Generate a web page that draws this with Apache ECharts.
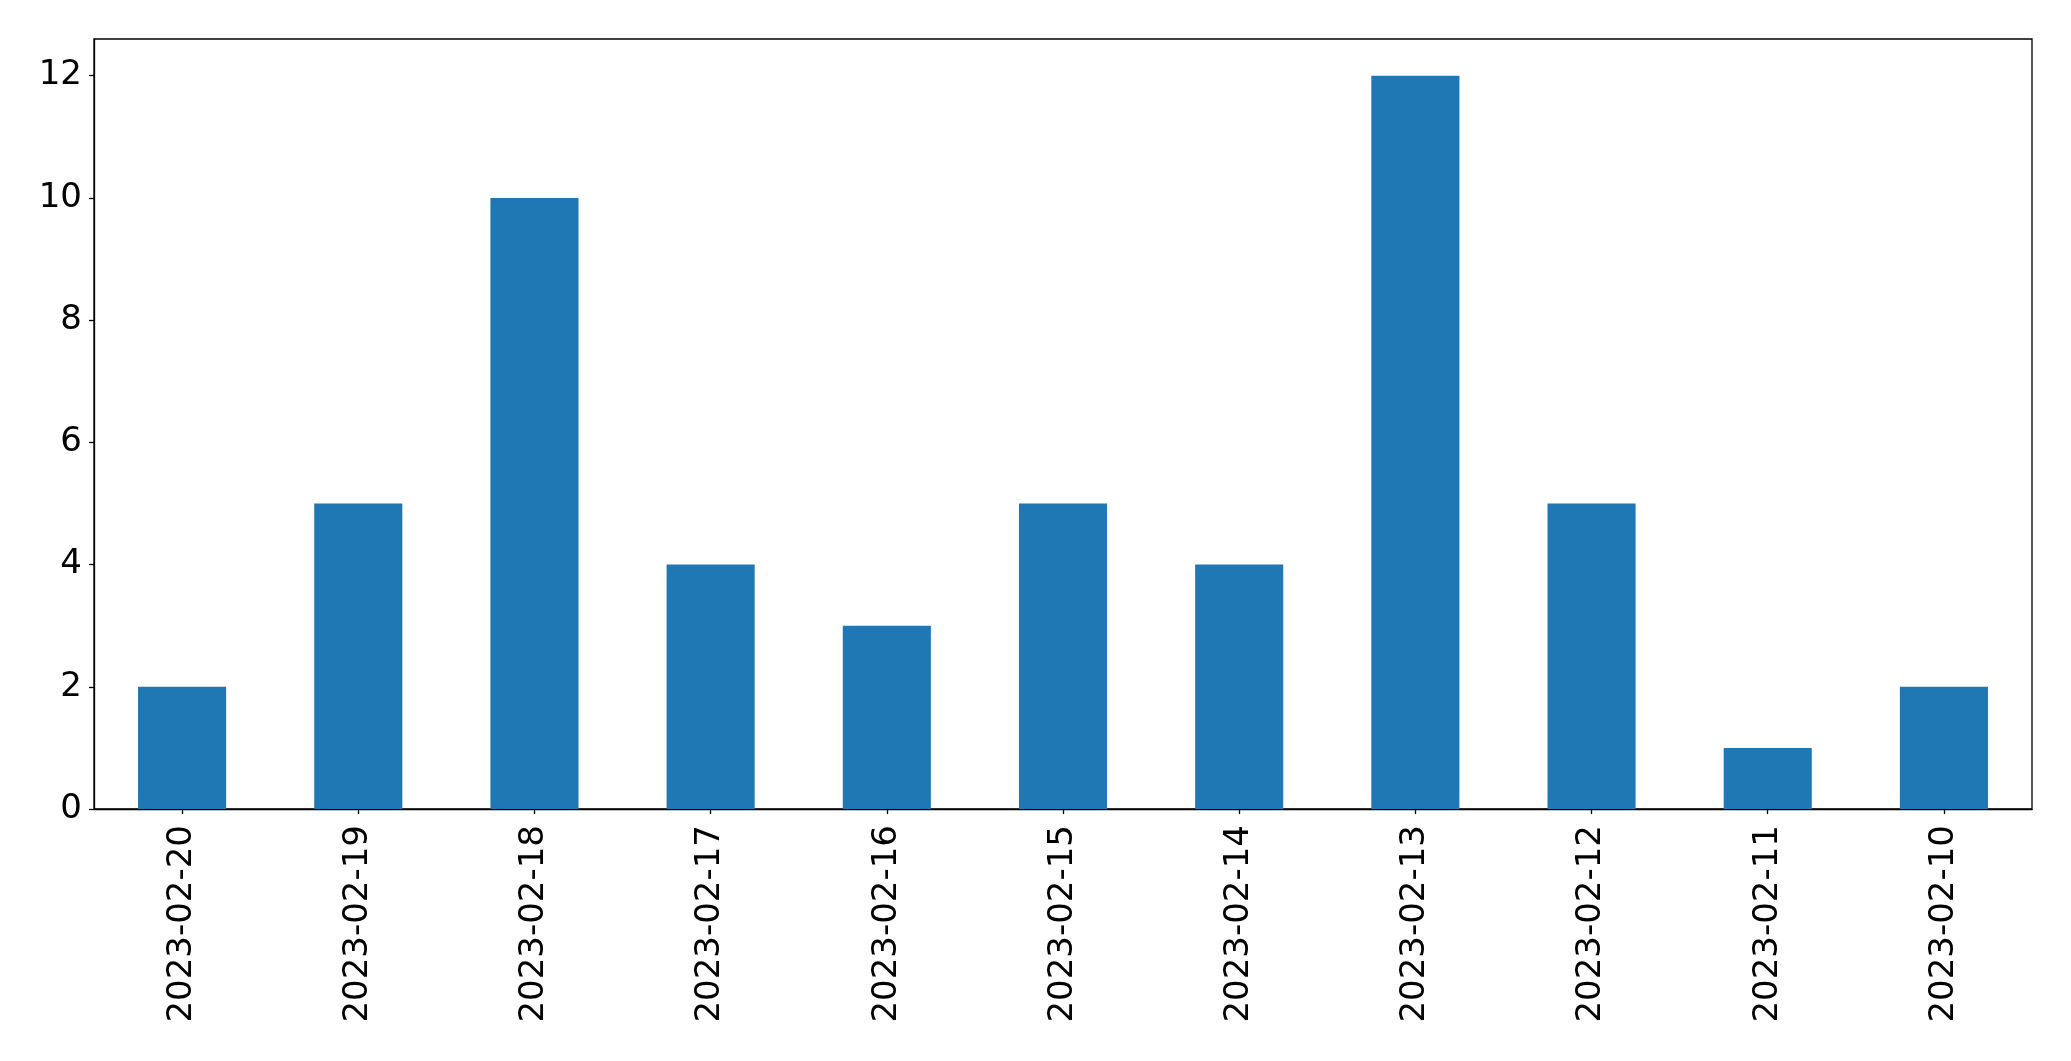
<!DOCTYPE html>
<html>
<head>
<meta charset="utf-8">
<script src="https://cdn.jsdelivr.net/npm/echarts@6/dist/echarts.min.js"></script>
<style>
html,body{margin:0;padding:0;background:#fff;}
#chart{width:2071px;height:1061px;}
</style>
</head>
<body>
<div id="chart"></div>
<script>
const categories = ["2023-02-20","2023-02-19","2023-02-18","2023-02-17","2023-02-16","2023-02-15","2023-02-14","2023-02-13","2023-02-12","2023-02-11","2023-02-10"];
const values = [2,5,10,4,3,5,4,12,5,1,2];
const yTicks = [0,2,4,6,8,10,12];

const chart = echarts.init(document.getElementById('chart'), null, {renderer:'canvas'});
const font = 'DejaVu Sans';
chart.setOption({
  animation: false,
  backgroundColor: '#fff',
  grid: {left: 94, right: 39, top: 39, bottom: 252, show: true, borderColor: '#000', borderWidth: 1.3, containLabel: false},
  xAxis: {
    type: 'category',
    data: categories,
    axisLine: {show: true, lineStyle: {color: '#000', width: 1.3}},
    axisTick: {show: true, alignWithLabel: true, length: 5, lineStyle: {color: '#000', width: 1.3}},
    axisLabel: {rotate: 90, margin: 16, color: '#000', fontFamily: font, fontSize: 34, interval: 0}
  },
  yAxis: {
    type: 'value',
    min: 0, max: 12.6, interval: 2,
    splitLine: {show: false},
    axisLine: {show: true, lineStyle: {color: '#000', width: 1.3}},
    axisTick: {show: true, length: 5, lineStyle: {color: '#000', width: 1.3}, customValues: yTicks},
    axisLabel: {margin: 12, color: '#000', fontFamily: font, fontSize: 34, customValues: yTicks}
  },
  series: [{
    type: 'bar',
    data: values,
    barWidth: '50%',
    itemStyle: {color: '#1f77b4'}
  }]
});
</script>
</body>
</html>
